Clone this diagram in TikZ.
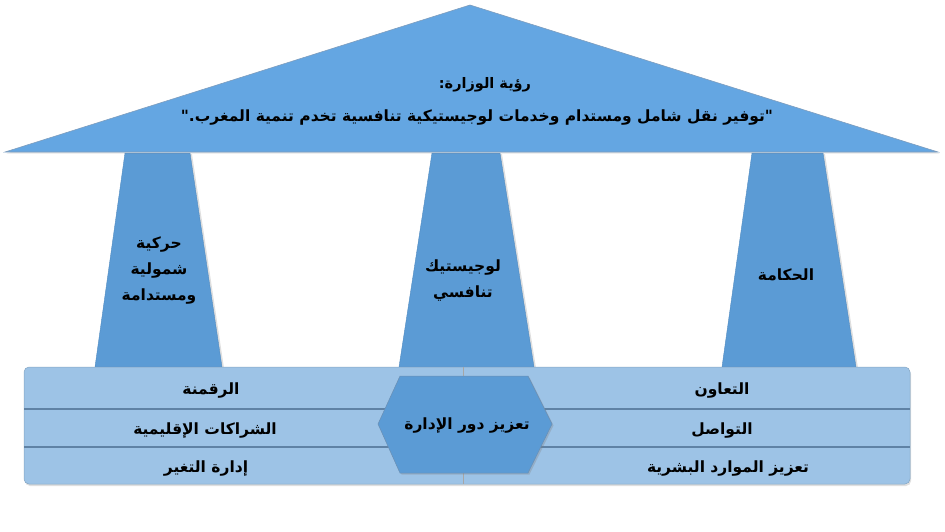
\documentclass[tikz,border=0pt]{standalone}
\usepackage{fontspec}
\usepackage{tikz}
\usetikzlibrary{shadows}
\TeXXeTstate=1
\newfontfamily\arabicfont[Script=Arabic]{DejaVu Sans}
\newcommand{\artext}[1]{\beginR #1\endR}
\definecolor{roofblue}{RGB}{100,166,226}
\definecolor{pillarblue}{RGB}{91,155,213}
\definecolor{panelblue}{RGB}{157,195,230}
\definecolor{edgeblue}{RGB}{70,115,160}
\definecolor{rowgray}{RGB}{95,130,165}
\tikzset{
  roof/.style={fill=roofblue,draw=edgeblue!70,line width=0.6pt,drop shadow={opacity=0.2,shadow xshift=1.5pt,shadow yshift=-1.5pt}},
  pillar/.style={fill=pillarblue,draw=pillarblue!90!black,line width=0.4pt,drop shadow={opacity=0.25,shadow xshift=2pt,shadow yshift=-1pt}},
  panel/.style={fill=panelblue,draw=panelblue!85!black,line width=0.5pt,rounded corners=5pt,drop shadow={opacity=0.25,shadow xshift=1pt,shadow yshift=-2pt}},
  hexa/.style={fill=pillarblue,draw=edgeblue!80,line width=0.5pt,drop shadow={opacity=0.3,shadow xshift=1.5pt,shadow yshift=-1.5pt}},
  rowline/.style={draw=rowgray,line width=1.3pt},
  label/.style={font=\arabicfont\bfseries\fontsize{15.5}{26}\selectfont,align=center,text=black,inner sep=1pt}
}
\begin{document}
\begin{tikzpicture}[x=1pt,y=-1pt]
\useasboundingbox (0,0) rectangle (945,531);
% pillars
\draw[pillar] (125,153) -- (190,153) -- (222,367) -- (95,367) -- cycle;
\draw[pillar] (432,153) -- (500,153) -- (534,367) -- (399,367) -- cycle;
\draw[pillar] (752,153) -- (823,153) -- (856,367) -- (722,367) -- cycle;
% roof
\coordinate (apex) at (470,5);
\coordinate (eaveL) at (5,152);
\coordinate (eaveR) at (938,152);
\draw[roof] (apex) -- (eaveR) -- (eaveL) -- cycle;
% base
\draw[panel] (24,367) rectangle (910,484);
\draw[rowline] (24,409) -- (910,409);
\draw[rowline] (24,447) -- (910,447);
\draw[gray!70,line width=0.5pt] (463,367) -- (463,484);
\draw[hexa] (400,376) -- (528,376) -- (552,424) -- (528,473) -- (400,473) -- (378,424) -- cycle;
% texts
\node (vtitle) [label,font=\arabicfont\bfseries\fontsize{14.5}{17}\selectfont] at (485,85) {\artext{رؤية الوزارة:}};
\node (vtext) [label] at (477,117) {\artext{"توفير نقل شامل ومستدام وخدمات لوجيستيكية تنافسية تخدم تنمية المغرب."}};
\node (p1) [label] at (159,270) {\artext{حركية}\\\artext{شمولية}\\\artext{ومستدامة}};
\node (p2) [label] at (463,280) {\artext{لوجيستيك}\\\artext{تنافسي}};
\node (p3) [label] at (786,275) {\artext{الحكامة}};
\node (hx) [label] at (467,425) {\artext{تعزيز دور الإدارة}};
\node (r1) [label] at (722,390) {\artext{التعاون}};
\node (r2) [label] at (722,430) {\artext{التواصل}};
\node (r3) [label] at (728,468) {\artext{تعزيز الموارد البشرية}};
\node (l1) [label] at (211,390) {\artext{الرقمنة}};
\node (l2) [label] at (205,430) {\artext{الشراكات الإقليمية}};
\node (l3) [label] at (206,468) {\artext{إدارة التغير}};
\end{tikzpicture}
\end{document}
